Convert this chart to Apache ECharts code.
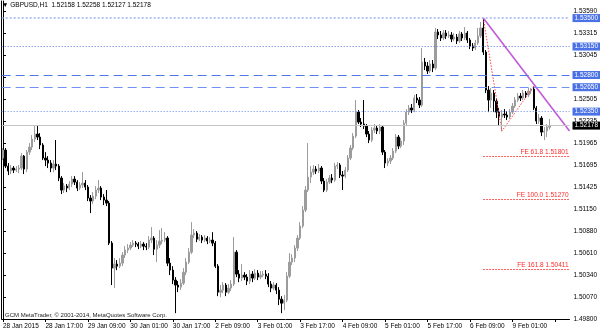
<!DOCTYPE html>
<html><head><meta charset="utf-8">
<script src="https://cdn.jsdelivr.net/npm/echarts@6/dist/echarts.min.js"></script>
<style>html,body{margin:0;padding:0;background:#fff}#c{width:600px;height:333px}</style>
</head><body><div id="c"></div>
<script>
const symbolName = 'GBPUSD,H1';
const sessionDays = ['28 Jan','29 Jan','30 Jan','2 Feb','3 Feb','4 Feb','5 Feb','6 Feb','9 Feb'];
const sessionFirstHour = [1,0,0,0,0,0,0,0,0];
const sessionLastHour = [23,23,23,23,23,23,23,23,15];
const xTickLabels = ['28 Jan 2015','28 Jan 17:00','29 Jan 09:00','30 Jan 01:00','30 Jan 17:00','2 Feb 09:00','3 Feb 01:00','3 Feb 17:00','4 Feb 09:00','5 Feb 01:00','5 Feb 17:00','6 Feb 09:00','9 Feb 01:00'];
const yTickLabels = ['1.49800','1.50070','1.50340','1.50610','1.50880','1.51150','1.51425','1.51695','1.51965','1.52235','1.52505','','1.53045','1.53315','1.53590'];

const barOpen = [
1.51779,1.51877,1.51680,1.51619,1.51656,1.51631,1.51643,1.51656,1.51803,1.51643,
1.51852,1.51914,1.52012,1.52074,1.52037,1.51939,1.51779,1.51754,1.51717,1.51656,
1.51705,1.51680,1.51533,1.51385,1.51434,1.51410,1.51459,1.51520,1.51483,1.51410,
1.51447,1.51471,1.51422,1.51287,1.51250,1.51311,1.51385,1.51410,1.51299,1.51262,
1.51225,1.50733,1.50426,1.50475,1.50450,1.50487,1.50586,1.50647,1.50672,1.50709,
1.50733,1.50721,1.50696,1.50721,1.50696,1.50684,1.50770,1.50795,1.50659,1.50709,
1.50758,1.50770,1.50795,1.50487,1.50401,1.50278,1.50217,1.50192,1.50241,1.50376,
1.50499,1.50622,1.50832,1.50856,1.50782,1.50807,1.50770,1.50795,1.50758,1.50770,
1.50733,1.50450,1.50130,1.50155,1.50217,1.50130,1.50180,1.50229,1.50622,1.50352,
1.50303,1.50340,1.50315,1.50266,1.50352,1.50303,1.50364,1.50315,1.50340,1.50352,
1.50327,1.50229,1.50180,1.50217,1.50155,1.50044,1.49995,1.50032,1.50327,1.50499,
1.50549,1.50672,1.50795,1.50942,1.51139,1.51385,1.51545,1.51606,1.51643,1.51619,
1.51656,1.51496,1.51385,1.51483,1.51533,1.51508,1.51680,1.51693,1.51570,1.51557,
1.51631,1.51779,1.51902,1.52049,1.52344,1.52221,1.52197,1.52172,1.52074,1.52000,
1.52123,1.52148,1.52111,1.52160,1.51852,1.51717,1.51742,1.51779,1.51865,1.52037,
1.51926,1.51988,1.52209,1.52344,1.52394,1.52369,1.52517,1.52492,1.52431,1.52959,
1.52910,1.52849,1.52935,1.52886,1.53328,1.53292,1.53255,1.53316,1.53279,1.53292,
1.53242,1.53267,1.53218,1.53304,1.53255,1.53316,1.53230,1.53156,1.53132,1.53193,
1.53279,1.53378,1.53082,1.52615,1.52492,1.52578,1.52480,1.52344,1.52283,1.52320,
1.52308,1.52283,1.52344,1.52418,1.52492,1.52541,1.52517,1.52578,1.52554,1.52603,
1.52627,1.52394,1.52234,1.52271,1.52098,1.52111,1.52158];
const barClose = [
1.51877,1.51680,1.51619,1.51656,1.51631,1.51643,1.51656,1.51803,1.51643,1.51852,
1.51914,1.52012,1.52074,1.52037,1.51939,1.51779,1.51754,1.51717,1.51656,1.51705,
1.51680,1.51533,1.51385,1.51434,1.51410,1.51459,1.51520,1.51483,1.51410,1.51447,
1.51471,1.51422,1.51287,1.51250,1.51311,1.51385,1.51410,1.51299,1.51262,1.51225,
1.50733,1.50426,1.50475,1.50450,1.50487,1.50586,1.50647,1.50672,1.50709,1.50733,
1.50721,1.50696,1.50721,1.50696,1.50684,1.50770,1.50795,1.50659,1.50709,1.50758,
1.50770,1.50795,1.50487,1.50401,1.50278,1.50217,1.50192,1.50241,1.50376,1.50499,
1.50622,1.50832,1.50856,1.50782,1.50807,1.50770,1.50795,1.50758,1.50770,1.50733,
1.50450,1.50130,1.50155,1.50217,1.50130,1.50180,1.50229,1.50622,1.50352,1.50303,
1.50340,1.50315,1.50266,1.50352,1.50303,1.50364,1.50315,1.50340,1.50352,1.50327,
1.50229,1.50180,1.50217,1.50155,1.50044,1.49995,1.50032,1.50327,1.50499,1.50549,
1.50672,1.50795,1.50942,1.51139,1.51385,1.51545,1.51606,1.51643,1.51619,1.51656,
1.51496,1.51385,1.51483,1.51533,1.51508,1.51680,1.51693,1.51570,1.51557,1.51631,
1.51779,1.51902,1.52049,1.52344,1.52221,1.52197,1.52172,1.52074,1.52000,1.52123,
1.52148,1.52111,1.52160,1.51852,1.51717,1.51742,1.51779,1.51865,1.52037,1.51926,
1.51988,1.52209,1.52344,1.52394,1.52369,1.52517,1.52492,1.52431,1.52959,1.52910,
1.52849,1.52935,1.52886,1.53328,1.53292,1.53255,1.53316,1.53279,1.53292,1.53242,
1.53267,1.53218,1.53304,1.53255,1.53316,1.53230,1.53156,1.53132,1.53193,1.53279,
1.53378,1.53082,1.52615,1.52492,1.52578,1.52480,1.52344,1.52283,1.52320,1.52308,
1.52283,1.52344,1.52418,1.52492,1.52541,1.52517,1.52578,1.52554,1.52603,1.52627,
1.52394,1.52234,1.52271,1.52098,1.52111,1.52160,1.52178];
const barLow = [
1.51754,1.51656,1.51570,1.51582,1.51594,1.51606,1.51594,1.51631,1.51582,1.51606,
1.51816,1.51877,1.51975,1.52000,1.51889,1.51754,1.51680,1.51656,1.51606,1.51606,
1.51631,1.51496,1.51336,1.51348,1.51360,1.51385,1.51422,1.51447,1.51373,1.51385,
1.51410,1.51385,1.51250,1.51102,1.51213,1.51274,1.51348,1.51262,1.51201,1.51188,
1.50709,1.50217,1.50180,1.50401,1.50426,1.50450,1.50549,1.50610,1.50647,1.50684,
1.50684,1.50659,1.50672,1.50647,1.50647,1.50659,1.50733,1.50586,1.50499,1.50672,
1.50721,1.50745,1.50450,1.50340,1.50229,1.49872,1.50130,1.50155,1.50217,1.50340,
1.50475,1.50598,1.50795,1.50745,1.50758,1.50733,1.50745,1.50721,1.50733,1.50696,
1.50426,1.50081,1.50069,1.50118,1.50081,1.50106,1.50143,1.50204,1.50315,1.50253,
1.50266,1.50278,1.50217,1.50229,1.50253,1.50278,1.50278,1.50290,1.50315,1.50290,
1.50192,1.50130,1.50155,1.50106,1.49971,1.49872,1.49909,1.50007,1.50303,1.50463,
1.50499,1.50635,1.50770,1.50918,1.51114,1.51360,1.51471,1.51570,1.51582,1.51594,
1.51459,1.51360,1.51360,1.51459,1.51471,1.51483,1.51643,1.51533,1.51385,1.51533,
1.51606,1.51754,1.51877,1.52025,1.52197,1.52160,1.52135,1.52037,1.51963,1.51975,
1.52086,1.52074,1.52074,1.51816,1.51656,1.51680,1.51705,1.51754,1.51840,1.51889,
1.51902,1.51939,1.52185,1.52308,1.52332,1.52344,1.52455,1.52394,1.52406,1.52861,
1.52812,1.52824,1.52836,1.52861,1.53242,1.53218,1.53230,1.53242,1.53255,1.53205,
1.53218,1.53181,1.53193,1.53218,1.53230,1.53193,1.53119,1.53095,1.53107,1.53169,
1.53255,1.53046,1.52578,1.52344,1.52394,1.52344,1.52271,1.52172,1.52110,1.52271,
1.52246,1.52258,1.52320,1.52394,1.52468,1.52480,1.52492,1.52517,1.52529,1.52566,
1.52369,1.52197,1.52197,1.52049,1.52000,1.52037,1.52127];
const barHigh = [
1.51902,1.51902,1.51717,1.51693,1.51680,1.51680,1.51693,1.51840,1.51816,1.51877,
1.51963,1.52062,1.52172,1.52172,1.52086,1.51963,1.51852,1.51803,1.51754,1.51754,
1.52000,1.51705,1.51557,1.51471,1.51459,1.51496,1.51557,1.51557,1.51508,1.51483,
1.51606,1.51508,1.51447,1.51324,1.51360,1.51434,1.51508,1.51434,1.51336,1.51385,
1.51250,1.50758,1.50549,1.50524,1.50549,1.50622,1.50696,1.50721,1.50745,1.50770,
1.50758,1.50745,1.50758,1.50745,1.50733,1.50819,1.50930,1.50819,1.50770,1.50893,
1.50918,1.50868,1.50819,1.50549,1.50450,1.50315,1.50266,1.50290,1.50426,1.50549,
1.50672,1.50991,1.50905,1.50881,1.50844,1.50832,1.50832,1.50819,1.50807,1.50868,
1.50758,1.50475,1.50217,1.50253,1.50241,1.50229,1.50278,1.50807,1.50647,1.50401,
1.50475,1.50376,1.50352,1.50401,1.50389,1.50413,1.50401,1.50389,1.50389,1.50401,
1.50364,1.50266,1.50253,1.50241,1.50192,1.50081,1.50094,1.50376,1.50610,1.50598,
1.50709,1.50832,1.50991,1.51188,1.51434,1.51963,1.51680,1.51693,1.51680,1.51705,
1.51680,1.51533,1.51520,1.51570,1.51582,1.51717,1.51729,1.51717,1.51619,1.51668,
1.51816,1.51939,1.52086,1.52492,1.52369,1.52271,1.52492,1.52197,1.52111,1.52160,
1.52197,1.52185,1.52197,1.52185,1.51877,1.51779,1.51816,1.51902,1.52074,1.52062,
1.52025,1.52246,1.52381,1.52431,1.52443,1.52554,1.52566,1.52529,1.53132,1.53009,
1.52959,1.52984,1.52984,1.53378,1.53365,1.53341,1.53353,1.53353,1.53341,1.53328,
1.53316,1.53304,1.53341,1.53328,1.53390,1.53341,1.53255,1.53193,1.53230,1.53378,
1.53451,1.53500,1.53107,1.52664,1.52640,1.52615,1.52517,1.52394,1.52369,1.52381,
1.52357,1.52381,1.52455,1.52529,1.52578,1.52578,1.52615,1.52603,1.52640,1.52640,
1.52660,1.52418,1.52320,1.52295,1.52160,1.52197,1.52258];

const levelValues = [1.53500, 1.53150, 1.52800, 1.52650, 1.52350];
const levelColors = ['#9db2f2', '#5273d8', '#4f76ea', '#6f92f4', '#6686ea'];
const levelDash = [[2,2], [1,2], [9,5], [9,5], [1,2]];
const levelWidths = [1.5, 1, 1, 1.2, 1];
const lastPrice = 1.52178;
const trendStart = [181, 1.53500];
const trendEnd = [213.5, 1.52111];
const fePath = [[181, 1.53500], [188, 1.52110], [200, 1.52660]];
const feRatios = ['61.8', '100.0', '161.8'];
const feValues = [1.51801, 1.51270, 1.50411];
const feStartSlot = 181;
const copyright = 'GCM MetaTrader, \u00a9 2001-2014, MetaQuotes Software Corp.';
const TOTAL_SLOTS = 214;

const categories = [];
sessionDays.forEach((d, k) => {
  for (let h = sessionFirstHour[k]; h <= sessionLastHour[k]; h++) categories.push(d + ' ' + String(h).padStart(2, '0') + ':00');
});
while (categories.length < TOTAL_SLOTS) categories.push('');
const candles = barOpen.map((o, i) => [o, barClose[i], barLow[i], barHigh[i]]);
const nLast = barOpen.length - 1;

const FONT = 'Liberation Sans, Arial, DejaVu Sans, sans-serif';
const yMin = 1.49800, yMax = 1.53710, yStep = 0.0027071;
const X0 = -0.5, X1 = TOTAL_SLOTS - 0.5;

function boxLabel(v, bg) {
  return { show: true, position: 'end', distance: 3, formatter: v.toFixed(5), color: '#fff',
           backgroundColor: bg, padding: [1, 2, 0, 2], fontSize: 6.5, fontFamily: FONT };
}
const levelLines = levelValues.map((v, i) => [
  { coord: [X0, v], lineStyle: { color: levelColors[i], type: levelDash[i], width: levelWidths[i] },
    label: boxLabel(v, '#4a72e6') },
  { coord: [X1, v] }
]);
levelLines.unshift([
  { coord: [X0, lastPrice], lineStyle: { color: '#c4c4c4', type: 'solid', width: 1 }, label: boxLabel(lastPrice, '#000') },
  { coord: [X1, lastPrice] }
]);
const feLines = feValues.map((v, i) => [
  { coord: [feStartSlot, v],
    lineStyle: { color: '#ff3030', type: [1.5, 1.5], width: 1 },
    label: { show: true, position: 'insideEndTop', distance: 1, formatter: 'FE ' + feRatios[i] + ' ' + v.toFixed(5),
             color: '#ff2a2a', fontSize: 6.5, fontFamily: FONT } },
  { coord: [X1, v] }
]);

const chart = echarts.init(document.getElementById('c'), null, { renderer: 'canvas' });
chart.setOption({
  animation: false,
  backgroundColor: '#fff',
  textStyle: { fontFamily: FONT },
  title: {
    text: '\u25bc ' + symbolName + '  ' + [barOpen[nLast], barHigh[nLast], barLow[nLast], barClose[nLast]].map(v => v.toFixed(5)).join(' '),
    left: 2, top: 2, padding: 0,
    textStyle: { fontSize: 6.5, fontWeight: 'normal', color: '#000', fontFamily: FONT }
  },
  graphic: [{ type: 'text', left: 5, top: 312, silent: true,
    style: { text: copyright, fontSize: 6, fontFamily: FONT, fill: '#222' } }],
  grid: { left: 1, right: 29, top: 1, bottom: 14 },
  xAxis: [
    { type: 'category', data: categories, boundaryGap: true,
      axisLine: { lineStyle: { color: '#000', width: 1 } },
      axisTick: { show: true, interval: 15, alignWithLabel: true, length: 3, lineStyle: { color: '#000' } },
      axisLabel: { interval: 15, align: 'left', margin: 4, fontSize: 6.5, color: '#000', fontFamily: FONT,
                   formatter: (v, i) => xTickLabels[i / 16] || '' },
      splitLine: { show: false } },
    { type: 'value', min: X0, max: X1, show: false }
  ],
  yAxis: [
    { type: 'value', position: 'right', min: yMin, max: yMax, interval: yStep,
      axisLine: { show: true, lineStyle: { color: '#000' } },
      axisTick: { show: true, length: 3, lineStyle: { color: '#000' } },
      axisLabel: { margin: 4, fontSize: 6.5, color: '#000', fontFamily: FONT, showMaxLabel: false,
        formatter: v => { const k = Math.round((v - yMin) / yStep);
          if (Math.abs(v - (yMin + k * yStep)) > 1e-6) return '';
          return yTickLabels[k] || ''; } },
      splitLine: { show: false } },
    { type: 'value', position: 'left', min: yMin, max: yMax,
      axisLine: { show: true, lineStyle: { color: '#000' } },
      axisTick: { show: false }, axisLabel: { show: false }, splitLine: { show: false } }
  ],
  series: [
    { type: 'line', xAxisIndex: 1, yAxisIndex: 0, data: [], symbol: 'none', silent: true, z: 1,
      markLine: { silent: true, symbol: ['none', 'none'], animation: false, data: levelLines } },
    { type: 'candlestick', xAxisIndex: 0, yAxisIndex: 0, data: candles, barWidth: 1.8, large: false, z: 2,
      itemStyle: { color: '#9c9c9c', color0: '#000', borderColor: '#9c9c9c', borderColor0: '#000', borderWidth: 1 } },
    { type: 'line', xAxisIndex: 1, yAxisIndex: 0, data: [trendStart, trendEnd], symbol: 'none', silent: true, z: 3,
      lineStyle: { color: '#c15ad9', width: 1.6 } },
    { type: 'line', xAxisIndex: 1, yAxisIndex: 0, data: fePath, symbol: 'none', silent: true, z: 3,
      lineStyle: { color: '#ff4040', width: 1, type: [1.5, 1.5] },
      markLine: { silent: true, symbol: ['none', 'none'], animation: false, data: feLines } }
  ]
});
</script>
</body></html>
